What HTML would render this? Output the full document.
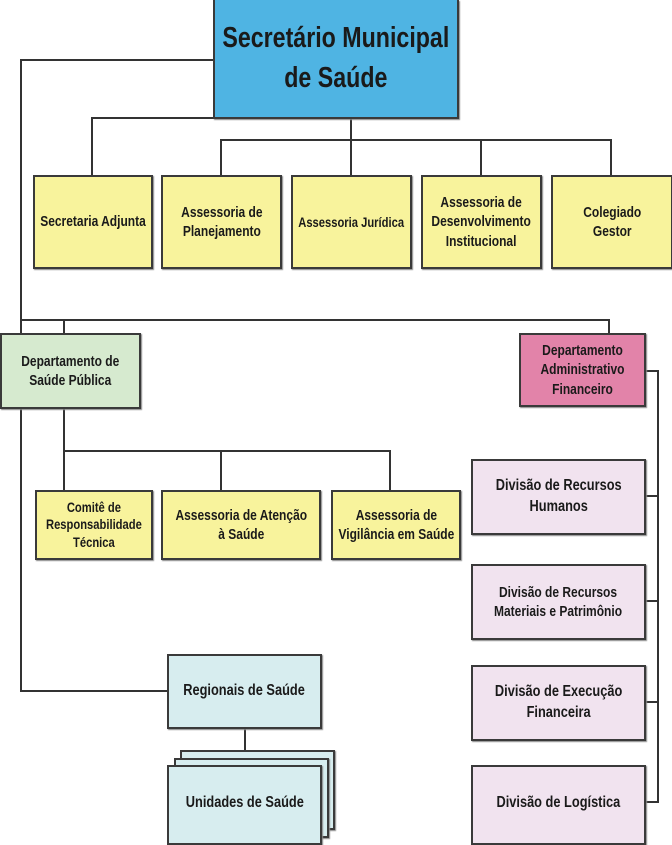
<!DOCTYPE html>
<html><head><meta charset="utf-8"><style>
body{margin:0;width:672px;height:841px;background:#fff;position:relative;overflow:hidden;font-family:"Liberation Sans",sans-serif;font-weight:bold;color:#1a1a1a}
.b{position:absolute;box-sizing:border-box;border:2px solid #3a3a3a;display:flex;align-items:center;justify-content:center;text-align:center;line-height:1.3;box-shadow:1px 1px 1px #888}
.b span{display:inline-block;white-space:nowrap;transform:scaleX(0.8)}
.l{position:absolute;background:#333}
.y{background:#f8f39c;font-size:15px}
.p{background:#f1e3ef;font-size:16px}
</style></head><body>
<div class="l" style="left:20px;top:59px;width:194px;height:2px"></div>
<div class="l" style="left:20px;top:59px;width:2px;height:633px"></div>
<div class="l" style="left:20px;top:319px;width:590px;height:2px"></div>
<div class="l" style="left:608px;top:319px;width:2px;height:15px"></div>
<div class="l" style="left:63px;top:319px;width:2px;height:15px"></div>
<div class="l" style="left:91px;top:117px;width:123px;height:2px"></div>
<div class="l" style="left:91px;top:117px;width:2px;height:58px"></div>
<div class="l" style="left:350px;top:117px;width:2px;height:58px"></div>
<div class="l" style="left:220px;top:139px;width:392px;height:2px"></div>
<div class="l" style="left:220px;top:139px;width:2px;height:36px"></div>
<div class="l" style="left:480px;top:139px;width:2px;height:36px"></div>
<div class="l" style="left:610px;top:139px;width:2px;height:36px"></div>
<div class="l" style="left:63px;top:407px;width:2px;height:83px"></div>
<div class="l" style="left:63px;top:450px;width:328px;height:2px"></div>
<div class="l" style="left:220px;top:450px;width:2px;height:40px"></div>
<div class="l" style="left:389px;top:450px;width:2px;height:40px"></div>
<div class="l" style="left:20px;top:690px;width:148px;height:2px"></div>
<div class="l" style="left:244px;top:728px;width:2px;height:38px"></div>
<div class="l" style="left:644px;top:370px;width:15px;height:2px"></div>
<div class="l" style="left:657px;top:370px;width:2px;height:433px"></div>
<div class="l" style="left:644px;top:495px;width:15px;height:2px"></div>
<div class="l" style="left:644px;top:600px;width:15px;height:2px"></div>
<div class="l" style="left:644px;top:701px;width:15px;height:2px"></div>
<div class="l" style="left:644px;top:801px;width:15px;height:2px"></div>
<div class="b" style="left:213px;top:0;width:246px;height:119px;background:#4fb4e3;font-size:29px;line-height:1.35;border-top:none"><span>Secretário Municipal<br>de Saúde</span></div>
<div class="b y" style="left:33px;top:175px;width:120px;height:94px"><span>Secretaria Adjunta</span></div>
<div class="b y" style="left:161px;top:175px;width:121px;height:94px"><span>Assessoria de<br>Planejamento</span></div>
<div class="b y" style="left:291px;top:175px;width:121px;height:94px;font-size:14px"><span>Assessoria Jurídica</span></div>
<div class="b y" style="left:421px;top:175px;width:121px;height:94px"><span>Assessoria de<br>Desenvolvimento<br>Institucional</span></div>
<div class="b y" style="left:551px;top:175px;width:122px;height:94px"><span>Colegiado<br>Gestor</span></div>
<div class="b" style="left:0;top:333px;width:141px;height:76px;background:#d6eacf;font-size:15px"><span>Departamento de<br>Saúde Pública</span></div>
<div class="b" style="left:519px;top:333px;width:127px;height:74px;background:#e283a9;font-size:15px"><span>Departamento<br>Administrativo<br>Financeiro</span></div>
<div class="b y" style="left:35px;top:490px;width:118px;height:70px;font-size:14px;line-height:1.25"><span>Comitê de<br>Responsabilidade<br>Técnica</span></div>
<div class="b y" style="left:161px;top:490px;width:160px;height:70px"><span>Assessoria de Atenção<br>à Saúde</span></div>
<div class="b y" style="left:331px;top:490px;width:130px;height:70px"><span>Assessoria de<br>Vigilância em Saúde</span></div>
<div class="b" style="left:167px;top:654px;width:155px;height:75px;background:#d7edef;font-size:16px"><span>Regionais de Saúde</span></div>
<div class="b" style="left:180px;top:750px;width:155px;height:80px;background:#d7edef"></div>
<div class="b" style="left:174px;top:758px;width:155px;height:80px;background:#d7edef"></div>
<div class="b" style="left:167px;top:765px;width:155px;height:80px;background:#d7edef;font-size:16px;padding-bottom:4px"><span>Unidades de Saúde</span></div>
<div class="b p" style="left:471px;top:459px;width:175px;height:76px"><span>Divisão de Recursos<br>Humanos</span></div>
<div class="b p" style="left:471px;top:564px;width:175px;height:76px;font-size:15px"><span>Divisão de Recursos<br>Materiais e Patrimônio</span></div>
<div class="b p" style="left:471px;top:665px;width:175px;height:76px"><span>Divisão de Execução<br>Financeira</span></div>
<div class="b p" style="left:471px;top:765px;width:175px;height:80px;padding-bottom:4px"><span>Divisão de Logística</span></div>
</body></html>
